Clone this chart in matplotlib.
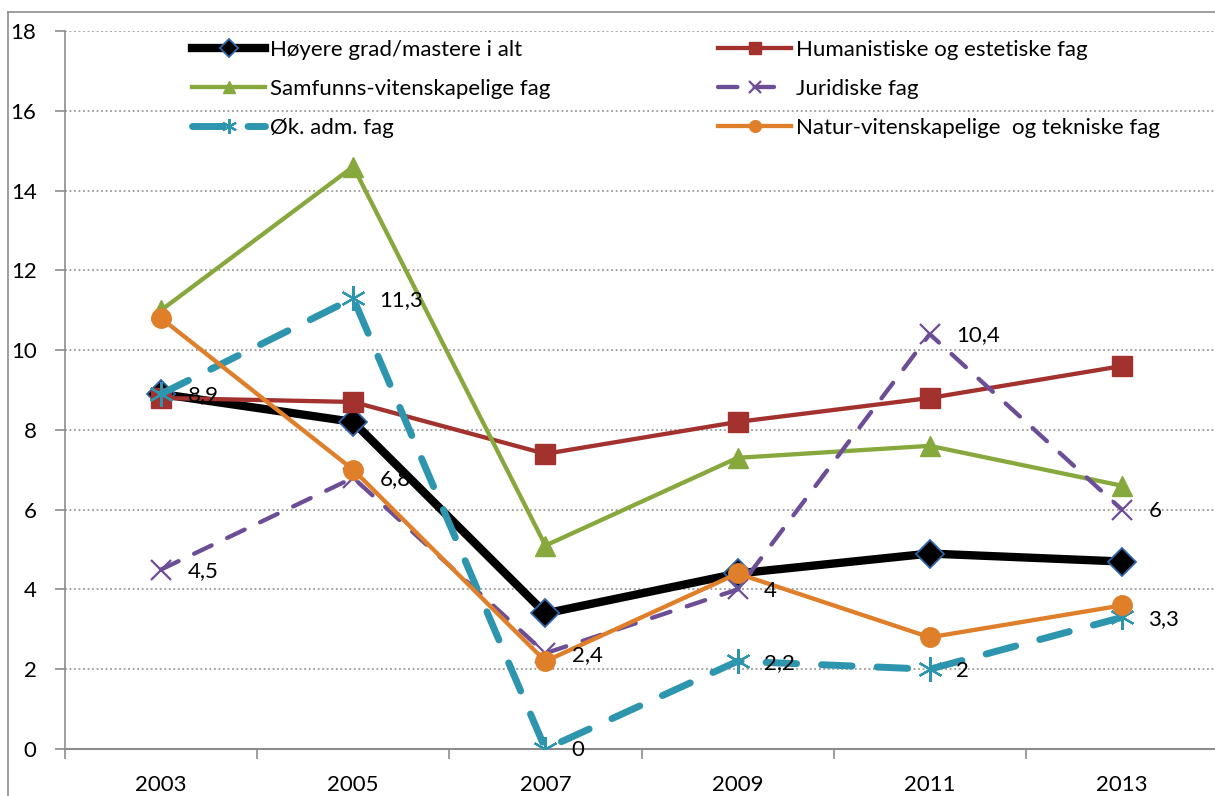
import numpy as np
import matplotlib
matplotlib.use("Agg")
import matplotlib.pyplot as plt
from matplotlib.lines import Line2D

plt.rcParams['font.family'] = ['Lato', 'DejaVu Sans']

years = ['2003', '2005', '2007', '2009', '2011', '2013']

hoyere = [8.9, 8.2, 3.4, 4.4, 4.9, 4.7]
humanistiske = [8.8, 8.7, 7.4, 8.2, 8.8, 9.6]
samfunn = [11.0, 14.6, 5.1, 7.3, 7.6, 6.6]
juridiske = [4.5, 6.8, 2.4, 4.0, 10.4, 6.0]
okadm = [8.9, 11.3, 0.0, 2.2, 2.0, 3.3]
natur = [10.8, 7.0, 2.2, 4.4, 2.8, 3.6]

names = ['Høyere grad/mastere i alt', 'Humanistiske og estetiske fag',
         'Samfunns-vitenskapelige fag', 'Juridiske fag', 'Øk. adm. fag',
         'Natur-vitenskapelige  og tekniske fag']

FS = 16
W, H = 1215, 796
fig = plt.figure(figsize=(W / 100, H / 100), dpi=100)
ax = fig.add_axes([65 / W, 1 - 749 / H, 1153 / W, 718 / H])

x = np.arange(len(years))

# outer chart border (cropped at right/bottom)
fig.add_artist(Line2D([8 / W, 8 / W], [0, 1 - 12 / H], color='#8c8c8c', lw=1.2))
fig.add_artist(Line2D([8 / W, 1], [1 - 12 / H, 1 - 12 / H], color='#8c8c8c', lw=1.2))

l_black, = ax.plot(x, hoyere, color='black', lw=6, marker='D', ms=14.5,
                   mfc='black', mec='#2f66a8', mew=1.3, zorder=3)
l_red, = ax.plot(x, humanistiske, color='#a3322f', lw=3.1, marker='s', ms=14,
                 mfc='#a3322f', mec='#a3322f', zorder=3)
l_green, = ax.plot(x, samfunn, color='#87a83d', lw=3.1, marker='^', ms=15,
                   mfc='#87a83d', mec='#87a83d', zorder=3)
l_purple, = ax.plot(x, juridiske, color='#6c4e97', lw=3.1, marker='x', ms=14,
                    mec='#6c4e97', mew=1.6, dashes=(4.5, 4.0),
                    dash_capstyle='round', zorder=3)
l_teal, = ax.plot(x, okadm, color='#2e95ae', lw=5, marker=(6, 2, 0), ms=18,
                  mec='#2e95ae', mew=1.6, dashes=(4.4, 3.6),
                  dash_capstyle='round', zorder=3)
l_orange, = ax.plot(x, natur, color='#df7f2a', lw=3.1, marker='o', ms=14,
                    mfc='#df7f2a', mec='#df7f2a', zorder=3)

# data labels for Juridiske and Øk. adm.
def fmt(v):
    return f"{v:g}".replace('.', ',')

for vals in (juridiske, okadm):
    for xi, v in zip(x, vals):
        ax.annotate(fmt(v), (xi, v), xytext=(19, -1), textcoords='offset points',
                    ha='left', va='center', fontsize=FS, color='black', zorder=4,
                    annotation_clip=False)

ax.set_xlim(-0.5, len(years) - 0.5)
ax.set_ylim(0, 18)
ax.set_yticks(np.arange(0, 19, 2))
ax.set_xticks(x)
ax.set_xticklabels(years)
ax.set_xticks(np.arange(-0.5, len(years), 1), minor=True)
ax.tick_params(axis='x', which='major', length=0, pad=19, labelsize=FS)
ax.tick_params(axis='x', which='minor', length=7, width=1.2, color='#8c8c8c', direction='out')
ax.tick_params(axis='y', length=7, width=1.2, color='#8c8c8c', pad=13.5, labelsize=FS)

ax.grid(axis='y', color='#9a9a9a', linestyle=(0, (1, 1.5)), lw=1.3)
ax.set_axisbelow(True)
for s in ['top', 'right']:
    ax.spines[s].set_visible(False)
ax.spines['left'].set_color('#8c8c8c')
ax.spines['left'].set_linewidth(1.2)
ax.spines['bottom'].set_color('#8c8c8c')
ax.spines['bottom'].set_linewidth(1.5)

leg_kw = dict(frameon=False, fontsize=FS, handlelength=3.3, handletextpad=0.22,
              labelspacing=0.85, markerscale=0.6, borderaxespad=0, borderpad=0)
leg1 = ax.legend([l_black, l_green, l_teal], [names[0], names[2], names[4]],
                 loc='upper left', bbox_to_anchor=((192 - 65) / 1153, (749 - 40) / 718), **leg_kw)
ax.add_artist(leg1)
ax.legend([l_red, l_purple, l_orange], [names[1], names[3], names[5]],
          loc='upper left', bbox_to_anchor=((718 - 65) / 1153, (749 - 40) / 718), **leg_kw)

fig.savefig('out.png', dpi=100)
